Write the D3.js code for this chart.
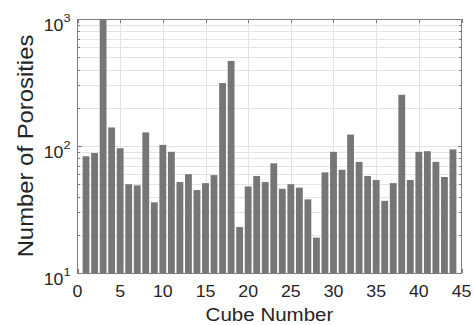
<!DOCTYPE html>
<html>
<head>
<meta charset="utf-8">
<script src="https://cdn.jsdelivr.net/npm/d3@7"></script>
<style>
  html, body { margin: 0; padding: 0; background: #fff; }
  svg { display: block; }
  text { font-family: "Liberation Sans", Arial, sans-serif; fill: #262626; }
</style>
</head>
<body>
<svg id="chart" width="474" height="325"></svg>
<script>
// Porosity count per cube
const cubes = [1, 2, 3, 4, 5, 6, 7, 8, 9, 10, 11, 12, 13, 14, 15, 16, 17, 18, 19, 20, 21, 22,
               23, 24, 25, 26, 27, 28, 29, 30, 31, 32, 33, 34, 35, 36, 37, 38, 39, 40, 41, 42, 43, 44];
const porosities = [83, 88, 1000, 140, 96, 50, 49, 128, 36, 102, 90, 52, 60, 45, 51, 59, 313, 467,
                    23, 48, 58, 52, 73, 46, 50, 47, 38, 19, 62, 90, 65, 123, 75, 58, 54, 37, 51,
                    253, 54, 90, 91, 75, 57, 94];
const xTicks = [0, 5, 10, 15, 20, 25, 30, 35, 40, 45];
const yMajor = [10, 100, 1000];
const yExponents = ["1", "2", "3"];

const svg = d3.select("#chart");
const plotL = 77.5, plotR = 461.5, plotT = 19, plotB = 273;
const widen = 1.11; // horizontal stretch applied to all lettering

const x = d3.scaleLinear().domain([0, 45]).range([plotL, plotR]);
const y = d3.scaleLog().domain([10, 1000]).range([plotB, plotT]);

// minor log positions (2..9 per decade)
const yMinor = y.ticks().filter(v => !yMajor.includes(v));

const grid = svg.append("g").attr("shape-rendering", "crispEdges");
grid.selectAll("line.hg").data(yMinor.concat(yMajor)).enter().append("line")
  .attr("x1", plotL).attr("x2", plotR)
  .attr("y1", d => Math.round(y(d)) + 0.5).attr("y2", d => Math.round(y(d)) + 0.5)
  .attr("stroke", "#e3e3e3").attr("stroke-width", 1);
grid.selectAll("line.vg").data(xTicks.slice(1, -1)).enter().append("line")
  .attr("x1", d => Math.round(x(d)) + 0.5).attr("x2", d => Math.round(x(d)) + 0.5)
  .attr("y1", plotT).attr("y2", plotB)
  .attr("stroke", "#e3e3e3").attr("stroke-width", 1);

// bars
const bw = x(0.8) - x(0);
svg.append("g").selectAll("rect").data(cubes).enter().append("rect")
  .attr("x", (d) => x(d) - bw / 2)
  .attr("width", bw)
  .attr("y", (d, i) => y(Math.min(porosities[i], 1000)))
  .attr("height", (d, i) => plotB - y(Math.min(porosities[i], 1000)))
  .attr("fill", "#767676");

// axes box and inward ticks
const ax = svg.append("g").attr("shape-rendering", "crispEdges").attr("stroke", "#7d7d7d");
ax.append("rect").attr("x", plotL).attr("y", plotT + 0.5)
  .attr("width", plotR - plotL).attr("height", plotB - plotT)
  .attr("fill", "none").attr("stroke-width", 1);
xTicks.forEach(t => {
  const px = Math.round(x(t)) + 0.5;
  ax.append("line").attr("x1", px).attr("x2", px).attr("y1", plotB).attr("y2", plotB - 4);
  ax.append("line").attr("x1", px).attr("x2", px).attr("y1", plotT).attr("y2", plotT + 4);
});
yMajor.forEach(t => {
  const py = Math.round(y(t)) + 0.5;
  ax.append("line").attr("x1", plotL).attr("x2", plotL + 4).attr("y1", py).attr("y2", py);
  ax.append("line").attr("x1", plotR).attr("x2", plotR - 4).attr("y1", py).attr("y2", py);
});
yMinor.forEach(t => {
  const py = Math.round(y(t)) + 0.5;
  ax.append("line").attr("x1", plotL).attr("x2", plotL + 2.5).attr("y1", py).attr("y2", py);
  ax.append("line").attr("x1", plotR).attr("x2", plotR - 2.5).attr("y1", py).attr("y2", py);
});

// x tick labels
svg.append("g").selectAll("text").data(xTicks).enter().append("text")
  .attr("transform", d => `translate(${x(d)},297) scale(${widen},1)`)
  .attr("text-anchor", "middle").attr("font-size", 16)
  .text(d => d);

// y tick labels as powers of ten
const yl = svg.append("g");
yMajor.forEach((t, i) => {
  const txt = yl.append("text")
    .attr("transform", `translate(70.5,${y(t) + 11.5}) scale(${widen},1)`)
    .attr("text-anchor", "end").attr("font-size", 16);
  txt.append("tspan").text("10");
  txt.append("tspan").attr("font-size", 11.5).attr("dy", -9).text(yExponents[i]);
});

// axis titles
svg.append("text")
  .attr("transform", `translate(${(plotL + plotR) / 2},321) scale(${widen},1)`)
  .attr("text-anchor", "middle").attr("font-size", 18.5)
  .text("Cube Number");
svg.append("text")
  .attr("transform", `translate(33,${(plotT + plotB) / 2}) rotate(-90) scale(${widen},1)`)
  .attr("text-anchor", "middle").attr("font-size", 21.5)
  .text("Number of Porosities");
</script>
</body>
</html>
